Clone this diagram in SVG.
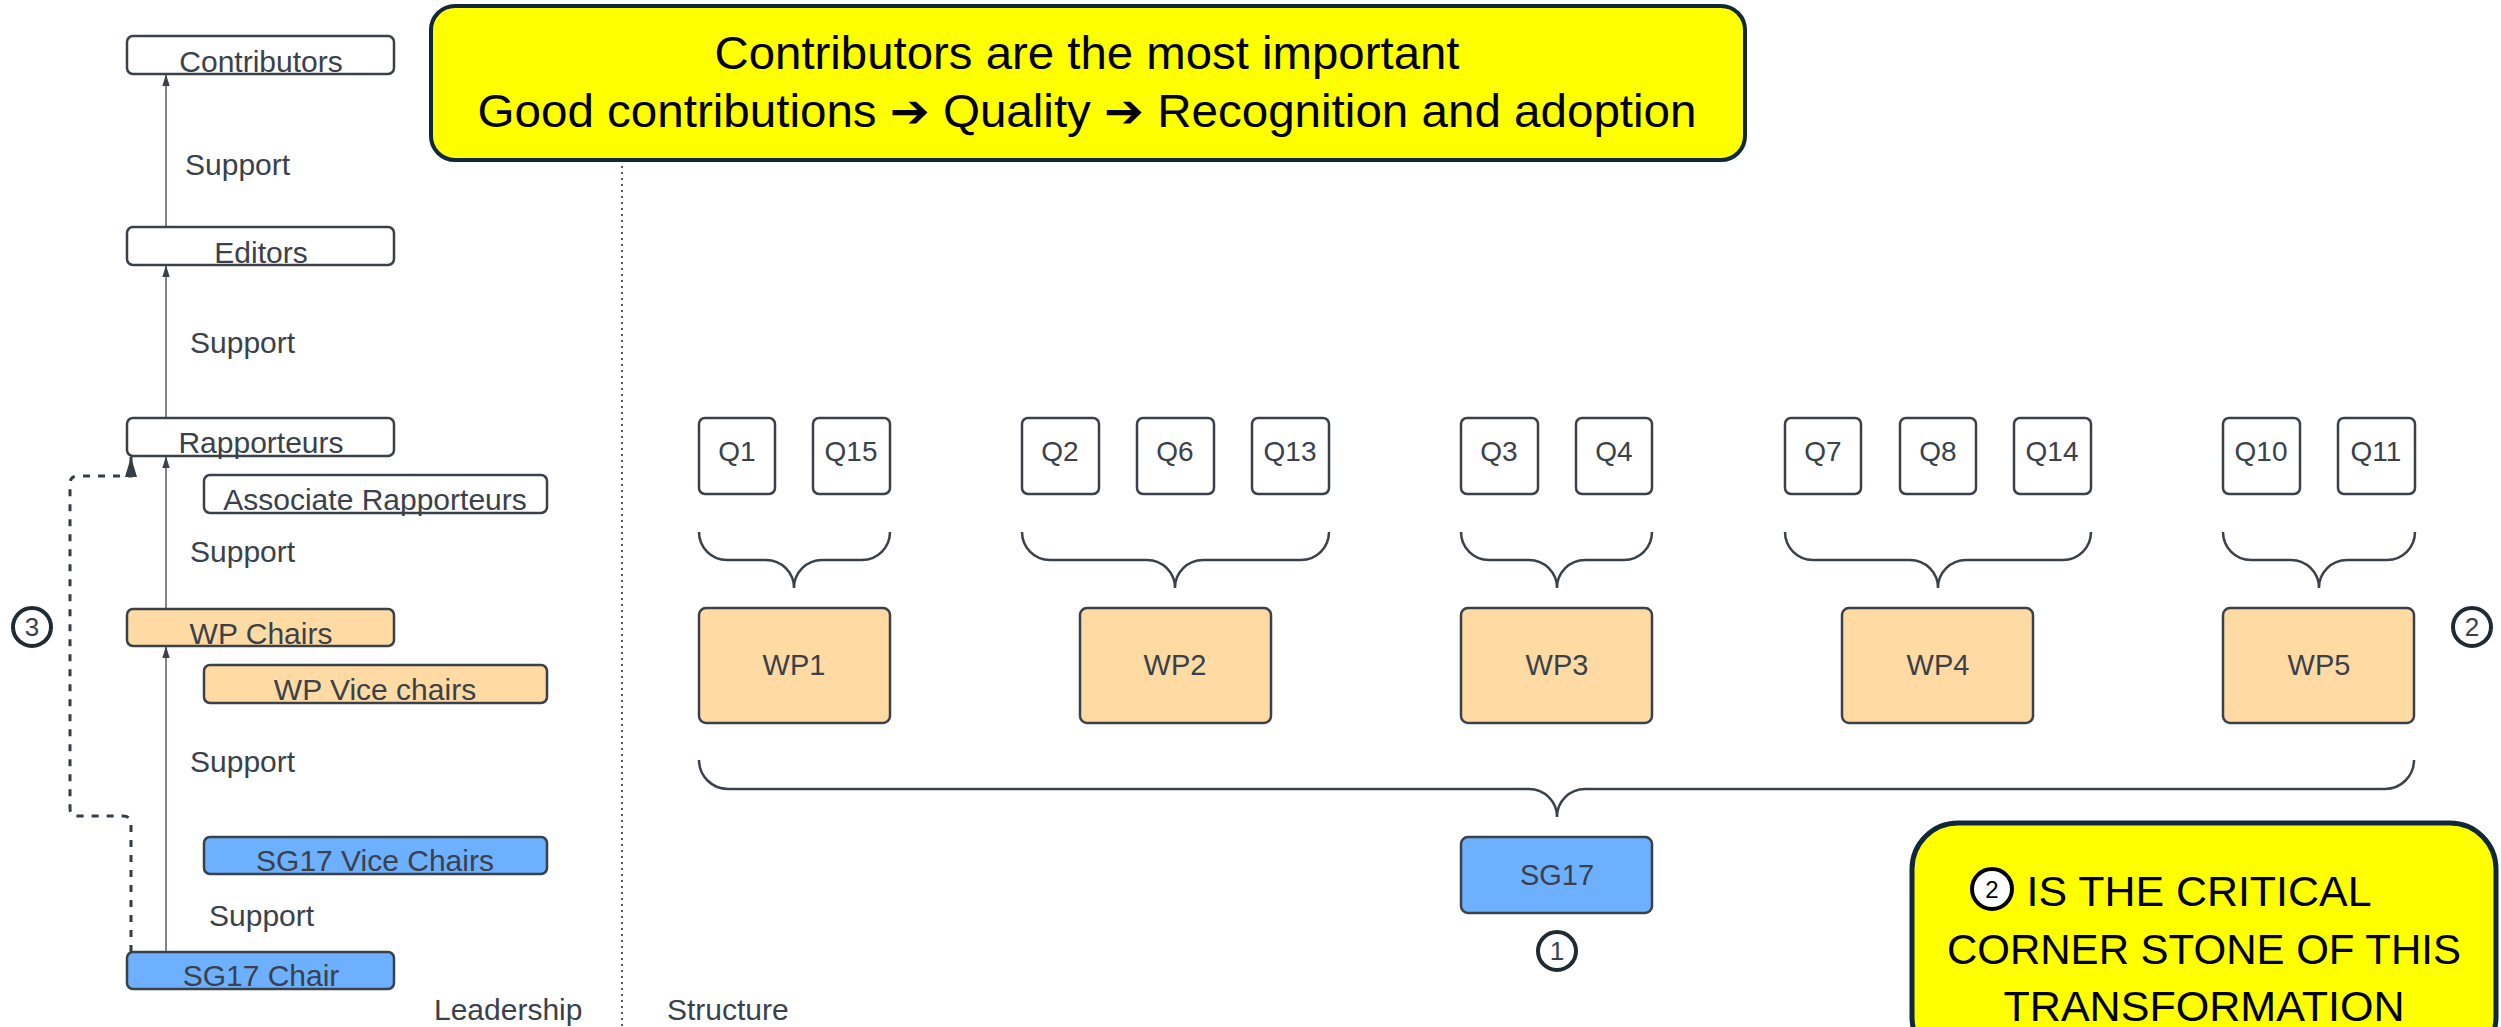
<svg xmlns="http://www.w3.org/2000/svg" width="2501" height="1027" viewBox="0 0 2501 1027">
<defs>
<style>
.box{stroke:#3a414a;stroke-width:2.5}
.w{fill:#ffffff}
.o{fill:#ffdba3}
.b{fill:#6cb0ff}
.t{font-family:"Liberation Sans",Arial,sans-serif;font-size:30px;fill:#3a414a;text-anchor:middle}
.tl{font-family:"Liberation Sans",Arial,sans-serif;font-size:30px;fill:#3a414a}
.q{font-family:"Liberation Sans",Arial,sans-serif;font-size:28px;fill:#3a414a;text-anchor:middle}
.brace{fill:none;stroke:#3a414a;stroke-width:2.5}
.conn{fill:none;stroke:#7e858d;stroke-width:2}
.dash{fill:none;stroke:#333d47;stroke-width:3;stroke-dasharray:7 8}
.num{fill:#ffffff;stroke:#1f2a33;stroke-width:4}
.nt{font-family:"Liberation Sans",Arial,sans-serif;font-size:26px;fill:#3a414a;text-anchor:middle}
.call{fill:#ffff00;stroke:#10283a;stroke-width:4}
.ct{font-family:"Liberation Sans",Arial,sans-serif;fill:#000000;text-anchor:middle}
.arr{font-family:"DejaVu Sans",sans-serif;font-weight:bold}
</style>
<marker id="ah" markerUnits="userSpaceOnUse" markerWidth="12" markerHeight="16" refX="15" refY="5" orient="auto" viewBox="0 0 16 10">
<path d="M0,0 L16,5 L0,10 Z" fill="#3a414a"/>
</marker>
<marker id="ahd" markerUnits="userSpaceOnUse" markerWidth="20" markerHeight="12" refX="20" refY="6" orient="auto" viewBox="0 0 20 12">
<path d="M0,0 L20,6 L0,12 Z" fill="#333d47"/>
</marker>
</defs>
<rect width="2501" height="1027" fill="#ffffff"/>

<g id="divider">
<line x1="622" y1="160" x2="622" y2="1027" stroke="#555c63" stroke-width="2" stroke-dasharray="2 4"/>
</g>

<g id="connectors">
<line class="conn" x1="166" y1="227" x2="166" y2="75" marker-end="url(#ah)"/>
<line class="conn" x1="166" y1="418" x2="166" y2="266" marker-end="url(#ah)"/>
<line class="conn" x1="166" y1="609" x2="166" y2="457" marker-end="url(#ah)"/>
<line class="conn" x1="166" y1="952" x2="166" y2="647" marker-end="url(#ah)"/>
<path class="dash" d="M131,952 V824 Q131,816 123,816 H78 Q70,816 70,808 V484 Q70,476 78,476 H131 V457" marker-end="url(#ahd)"/>
<path class="brace" d="M699,532 A28,28 0 0 0 727,560 H766 A28,28 0 0 1 794,588 A28,28 0 0 1 822,560 H862 A28,28 0 0 0 890,532"/>
<path class="brace" d="M1022,532 A28,28 0 0 0 1050,560 H1147 A28,28 0 0 1 1175,588 A28,28 0 0 1 1203,560 H1301 A28,28 0 0 0 1329,532"/>
<path class="brace" d="M1461,532 A28,28 0 0 0 1489,560 H1529 A28,28 0 0 1 1557,588 A28,28 0 0 1 1585,560 H1624 A28,28 0 0 0 1652,532"/>
<path class="brace" d="M1785,532 A28,28 0 0 0 1813,560 H1910 A28,28 0 0 1 1938,588 A28,28 0 0 1 1966,560 H2063 A28,28 0 0 0 2091,532"/>
<path class="brace" d="M2223,532 A28,28 0 0 0 2251,560 H2291 A28,28 0 0 1 2319,588 A28,28 0 0 1 2347,560 H2387 A28,28 0 0 0 2415,532"/>
<path class="brace" d="M699,760 A29,29 0 0 0 728,789 H1529 A28,28 0 0 1 1557,817 A28,28 0 0 1 1585,789 H2385 A29,29 0 0 0 2414,760"/>
</g>

<g id="contributors"><rect class="box w" x="127" y="36" width="267" height="38" rx="6"/><text class="t" x="261" y="72">Contributors</text></g>
<g id="editors"><rect class="box w" x="127" y="227" width="267" height="38" rx="6"/><text class="t" x="261" y="263">Editors</text></g>
<g id="rapporteurs"><rect class="box w" x="127" y="418" width="267" height="38" rx="6"/><text class="t" x="261" y="453">Rapporteurs</text></g>
<g id="assoc-rapporteurs"><rect class="box w" x="204" y="475" width="343" height="38" rx="6"/><text class="t" x="375" y="510">Associate Rapporteurs</text></g>
<g id="wp-chairs"><rect class="box o" x="127" y="609" width="267" height="37" rx="6"/><text class="t" x="261" y="644">WP Chairs</text></g>
<g id="wp-vice-chairs"><rect class="box o" x="204" y="665" width="343" height="38" rx="6"/><text class="t" x="375" y="700">WP Vice chairs</text></g>
<g id="sg17-vice-chairs"><rect class="box b" x="204" y="837" width="343" height="37" rx="6"/><text class="t" x="375" y="871">SG17 Vice Chairs</text></g>
<g id="sg17-chair"><rect class="box b" x="127" y="952" width="267" height="37" rx="6"/><text class="t" x="261" y="986">SG17 Chair</text></g>

<g id="support-labels">
<text class="tl" x="185" y="175">Support</text>
<text class="tl" x="190" y="353">Support</text>
<text class="tl" x="190" y="562">Support</text>
<text class="tl" x="190" y="772">Support</text>
<text class="tl" x="209" y="926">Support</text>
</g>

<g id="marker-3"><circle class="num" cx="32" cy="627" r="19"/><text class="nt" x="32" y="636">3</text></g>

<g id="section-labels">
<text class="tl" x="434" y="1020">Leadership</text>
<text class="tl" x="667" y="1020">Structure</text>
</g>

<g id="q1"><rect class="box w" x="699" y="418" width="76" height="76" rx="6"/><text class="q" x="737" y="461">Q1</text></g>
<g id="q15"><rect class="box w" x="813" y="418" width="77" height="76" rx="6"/><text class="q" x="851" y="461">Q15</text></g>
<g id="q2"><rect class="box w" x="1022" y="418" width="77" height="76" rx="6"/><text class="q" x="1060" y="461">Q2</text></g>
<g id="q6"><rect class="box w" x="1137" y="418" width="77" height="76" rx="6"/><text class="q" x="1175" y="461">Q6</text></g>
<g id="q13"><rect class="box w" x="1252" y="418" width="77" height="76" rx="6"/><text class="q" x="1290" y="461">Q13</text></g>
<g id="q3"><rect class="box w" x="1461" y="418" width="77" height="76" rx="6"/><text class="q" x="1499" y="461">Q3</text></g>
<g id="q4"><rect class="box w" x="1576" y="418" width="76" height="76" rx="6"/><text class="q" x="1614" y="461">Q4</text></g>
<g id="q7"><rect class="box w" x="1785" y="418" width="76" height="76" rx="6"/><text class="q" x="1823" y="461">Q7</text></g>
<g id="q8"><rect class="box w" x="1900" y="418" width="76" height="76" rx="6"/><text class="q" x="1938" y="461">Q8</text></g>
<g id="q14"><rect class="box w" x="2014" y="418" width="77" height="76" rx="6"/><text class="q" x="2052" y="461">Q14</text></g>
<g id="q10"><rect class="box w" x="2223" y="418" width="77" height="76" rx="6"/><text class="q" x="2261" y="461">Q10</text></g>
<g id="q11"><rect class="box w" x="2338" y="418" width="77" height="76" rx="6"/><text class="q" x="2376" y="461">Q11</text></g>

<g id="wp1"><rect class="box o" x="699" y="608" width="191" height="115" rx="7"/><text class="t" x="794" y="675" style="font-size:29px">WP1</text></g>
<g id="wp2"><rect class="box o" x="1080" y="608" width="191" height="115" rx="7"/><text class="t" x="1175" y="675" style="font-size:29px">WP2</text></g>
<g id="wp3"><rect class="box o" x="1461" y="608" width="191" height="115" rx="7"/><text class="t" x="1557" y="675" style="font-size:29px">WP3</text></g>
<g id="wp4"><rect class="box o" x="1842" y="608" width="191" height="115" rx="7"/><text class="t" x="1938" y="675" style="font-size:29px">WP4</text></g>
<g id="wp5"><rect class="box o" x="2223" y="608" width="191" height="115" rx="7"/><text class="t" x="2319" y="675" style="font-size:29px">WP5</text></g>

<g id="marker-2"><circle class="num" cx="2472" cy="627" r="19"/><text class="nt" x="2472" y="636">2</text></g>

<g id="sg17"><rect class="box b" x="1461" y="837" width="191" height="76" rx="7"/><text class="t" x="1557" y="885" style="font-size:29px">SG17</text></g>
<g id="marker-1"><circle class="num" cx="1557" cy="951" r="19"/><text class="nt" x="1557" y="960">1</text></g>

<g id="callout-top">
<rect class="call" x="431" y="6" width="1314" height="154" rx="24"/>
<text class="ct" x="1087" y="69" style="font-size:46px" textLength="745" lengthAdjust="spacingAndGlyphs">Contributors are the most important</text>
<text class="ct" x="1087" y="127" style="font-size:46px" textLength="1219" lengthAdjust="spacingAndGlyphs">Good contributions <tspan class="arr">➔</tspan> Quality <tspan class="arr">➔</tspan> Recognition and adoption</text>
</g>

<g id="callout-bottom">
<rect class="call" x="1912" y="823" width="584" height="240" rx="46" style="stroke-width:5"/>
<circle cx="1992" cy="889" r="20" fill="#ffffff" stroke="#000000" stroke-width="4"/>
<text class="ct" x="1992" y="898" style="font-size:24px">2</text>
<text class="ct" x="2199" y="906" style="font-size:42px" textLength="345" lengthAdjust="spacingAndGlyphs">IS THE CRITICAL</text>
<text class="ct" x="2204" y="964" style="font-size:42px" textLength="514" lengthAdjust="spacingAndGlyphs">CORNER STONE OF THIS</text>
<text class="ct" x="2204" y="1021" style="font-size:42px" textLength="401" lengthAdjust="spacingAndGlyphs">TRANSFORMATION</text>
</g>
</svg>
